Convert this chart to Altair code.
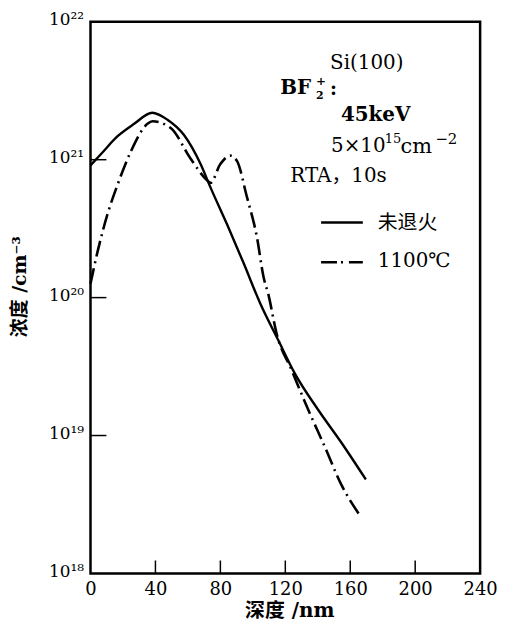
import altair as alt
import pandas as pd

# ---- data ----
depth_unannealed = [0, 6.5, 16.7, 26.9, 38, 47.4, 57.6, 67.8, 73.9, 84.1, 94.3,
                    104.5, 115.7, 126, 140, 154.5, 169.6]
conc_unannealed = [9.1e20, 1.1e21, 1.48e21, 1.82e21, 2.19e21, 1.95e21, 1.51e21,
                   9.3e20, 6.3e20, 3.4e20, 1.78e20, 9.1e19, 4.9e19, 2.8e19,
                   1.55e19, 8.9e18, 4.8e18]

depth_1100 = [0, 4.5, 10.6, 16.7, 24.9, 35.1, 38.2, 49.4, 61.6, 71.8, 73.9, 80,
              86.1, 90.2, 96.3, 102.5, 106.6, 109.6, 114.6, 123.8, 134, 144.3,
              154.5, 165.3]
conc_1100 = [1.26e20, 2.19e20, 4.07e20, 6.6e20, 1.15e21, 1.82e21, 1.9e21, 1.7e21,
             1.02e21, 7.1e20, 6.8e20, 9.3e20, 1.07e21, 9.8e20, 5.4e20, 2.75e20,
             1.41e20, 1.05e20, 5.5e19, 3.0e19, 1.55e19, 8.3e18, 4.4e18, 2.7e18]

x_ticks = [0, 40, 80, 120, 160, 200, 240]
x_inner_ticks = [40, 80, 120, 160, 200]
y_ticks = [1e18, 1e19, 1e20, 1e21, 1e22]
y_inner_ticks = [1e19, 1e20, 1e21]
y_tick_labels = ["10¹⁸", "10¹⁹", "10²⁰", "10²¹", "10²²"]
legend_labels = ["未退火", "1100℃"]
note_si = "Si(100)"
note_bf = ["BF", "+", "2", ":"]
note_energy = "45keV"
note_dose = ["5×10", "15", "cm", "−2"]
note_rta = "RTA，10s"
x_title = "深度 /nm"
y_title = "浓度 /cm⁻³"

# ---- chart ----
SERIF = "DejaVu Serif, Noto Sans CJK SC"
CJK = "Noto Sans CJK SC"
W, H = 392, 555

xs = alt.Scale(domain=[0, 240], nice=False, zero=False)
ys = alt.Scale(type="log", domain=[1e18, 1e22], nice=False)

label_expr = ("[" + ",".join("'%s'" % l for l in y_tick_labels) +
              "][round(log(datum.value)/LN10) - 18]")

x_axis = alt.Axis(values=x_ticks, ticks=False, domain=False, grid=False,
                  labelFont=SERIF, labelFontSize=18, labelPadding=7,
                  labelColor="black", labelFlush=False, labelOverlap=False,
                  format="d",
                  title=x_title, titleFont=SERIF, titleFontSize=20,
                  titleFontWeight="bold", titleColor="black",
                  titleX=200, titleY=37, titleAlign="center",
                  titleBaseline="middle")
y_axis = alt.Axis(values=y_ticks, labelExpr=label_expr, ticks=False,
                  domain=False, grid=False, labelFont=SERIF, labelFontSize=17,
                  labelPadding=7, labelBaseline="middle", labelOffset=-2,
                  labelColor="black", labelFlush=False, labelOverlap=False,
                  title=y_title, titleFont=SERIF, titleFontSize=19,
                  titleFontWeight="bold", titleColor="black",
                  titleAngle=270, titleX=-71, titleY=266,
                  titleAlign="center", titleBaseline="middle")

df_a = pd.DataFrame({"depth": depth_unannealed, "conc": conc_unannealed})
df_b = pd.DataFrame({"depth": depth_1100, "conc": conc_1100})

X = alt.X("depth:Q", scale=xs, axis=x_axis)
Y = alt.Y("conc:Q", scale=ys, axis=y_axis)

line_a = alt.Chart(df_a).mark_line(
    color="black", strokeWidth=2.4, interpolate="monotone"
).encode(x=X, y=Y)
line_b = alt.Chart(df_b).mark_line(
    color="black", strokeWidth=2.6, interpolate="monotone",
    strokeDash=[16, 5, 2, 5]
).encode(x=X, y=Y)

y_tick_marks = alt.Chart(pd.DataFrame({"conc": y_inner_ticks})).mark_rule(
    color="black", strokeWidth=1.5
).encode(y=Y, x=alt.value(0), x2=alt.value(16))
x_tick_marks = alt.Chart(pd.DataFrame({"depth": x_inner_ticks})).mark_rule(
    color="black", strokeWidth=1.5
).encode(x=X, y=alt.value(H), y2=alt.value(H - 13))


def label(txt, px, py, size=18, weight="normal", font=SERIF):
    return alt.Chart(pd.DataFrame({"t": [txt]})).mark_text(
        align="left", baseline="middle", font=font, fontSize=size,
        fontWeight=weight, color="black"
    ).encode(text="t:N", x=alt.value(px), y=alt.value(py))


note_layers = [
    label(note_si, 241, 41, 20),
    label(note_bf[0], 191, 67, 20, "bold"),
    label(note_bf[1], 227, 60, 12, "bold"),
    label(note_bf[2], 227, 75, 11, "bold"),
    label(note_bf[3], 241, 68, 19, "bold"),
    label(note_energy, 252, 94, 20, "bold"),
    label(note_dose[0], 242, 125, 20),
    label(note_dose[1], 296, 118, 13),
    label(note_dose[2], 312, 126, 21),
    label(note_dose[3], 347, 118, 15),
    label(note_rta, 201, 155, 20),
]

leg_solid = alt.Chart(pd.DataFrame({"s": [legend_labels[0]]})).mark_rule(
    color="black", strokeWidth=2.4
).encode(x=alt.value(232), x2=alt.value(274), y=alt.value(202))
leg_dash = alt.Chart(pd.DataFrame({"s": [legend_labels[1]]})).mark_rule(
    color="black", strokeWidth=2.6, strokeDash=[16, 4, 2, 6]
).encode(x=alt.value(232), x2=alt.value(274), y=alt.value(242))
leg_text_a = label(legend_labels[0], 289, 202, 20, "normal", CJK)
leg_text_b = label(legend_labels[1], 289, 241, 20)

chart = alt.layer(
    line_a, line_b, y_tick_marks, x_tick_marks, *note_layers,
    leg_solid, leg_dash, leg_text_a, leg_text_b
).properties(
    width=W, height=H,
    autosize=alt.AutoSizeParams(type="none"),
    padding={"left": 83, "top": 12, "right": 20, "bottom": 48},
    background="white",
).configure_view(stroke="black", strokeWidth=2.5)

chart.save("out.html", embed_options={"renderer": "svg", "actions": False})
